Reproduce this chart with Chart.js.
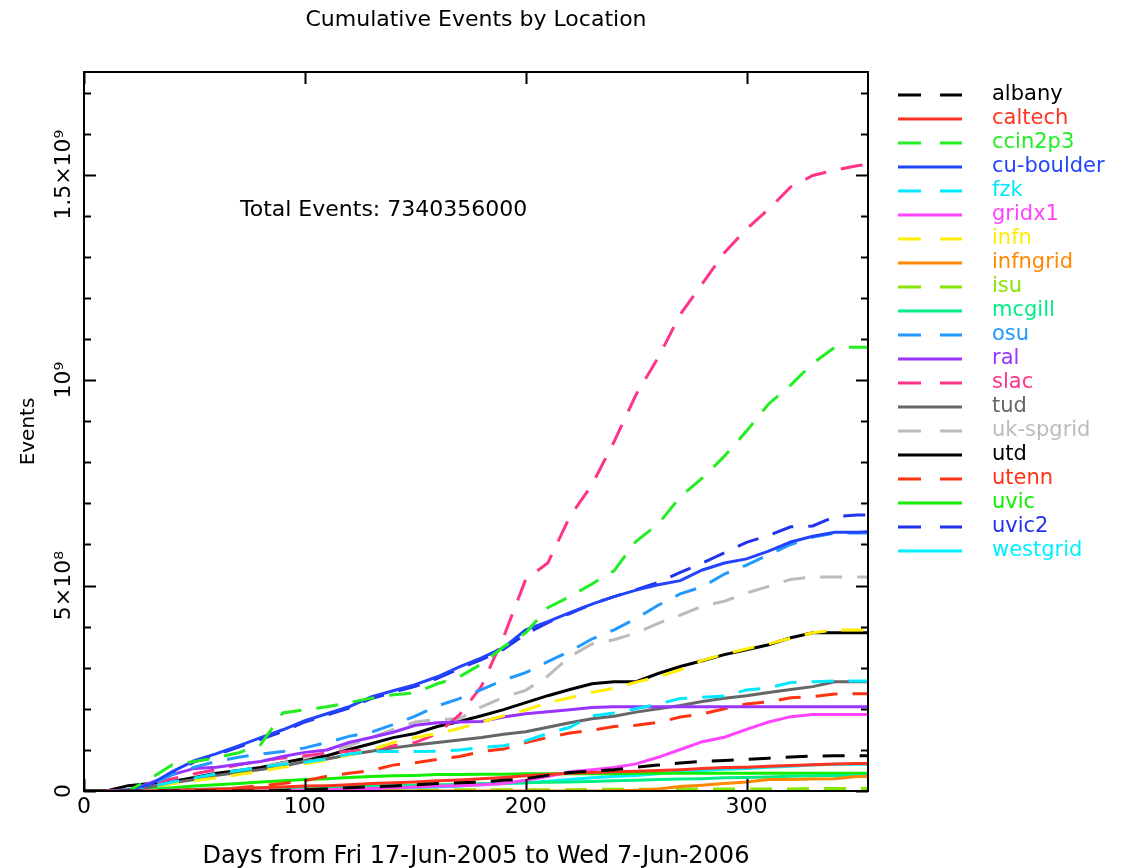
<!DOCTYPE html>
<html>
<head>
<meta charset="utf-8">
<title>Cumulative Events by Location</title>
<script src="https://cdn.jsdelivr.net/npm/chart.js@4.4.1/dist/chart.umd.min.js"></script>
<style>
  html, body { margin: 0; padding: 0; background: #fff; }
  #wrap { width: 1131px; height: 868px; }
</style>
</head>
<body>
<div id="wrap"><canvas id="eventsChart" width="1131" height="868"></canvas></div>
<script>
// days since Fri 17-Jun-2005
const days = [0, 10, 20, 30, 40, 50, 60, 70, 80, 90, 100, 110, 120, 130, 140, 150, 160, 170, 180,
  190, 200, 210, 220, 230, 240, 250, 260, 270, 280, 290, 300, 310, 320, 330, 340, 350, 355];

// cumulative events per site, millions
const albany = [0,0,0,0,0,0,0,0,0,1,3,5,8,10,12,15,18,20,22,26,30,38,45,48,52,58,63,68,72,74,77,80,83,85,86,86,86];
const caltech = [0,0,0,0,2,3,5,6,8,10,12,13,15,18,20,22,25,27,30,33,37,40,43,45,47,48,50,52,55,57,58,60,62,64,66,67,67];
const ccin2p3 = [0,0,0,30,64,72,81,93,113,190,198,205,215,226,234,239,261,278,309,351,385,446,473,504,536,608,650,716,762,815,876,942,988,1041,1080,1080,1080];
const cuBoulder = [0,0,3,16,47,74,91,110,130,149,171,188,205,229,244,259,278,302,324,349,392,412,434,455,473,489,502,512,538,555,565,584,606,620,630,630,631];
const fzk = [0,0,0,10,22,32,42,50,58,65,70,78,90,96,96,96,97,100,106,110,122,140,155,183,190,200,212,225,228,231,246,251,264,266,268,268,268];
const gridx1 = [0,0,0,0,0,0,0,0,0,1,2,3,5,6,8,10,12,13,15,18,26,35,47,52,57,66,82,101,120,131,150,168,181,186,186,186,186];
const infn = [0,0,0,10,18,25,32,40,48,58,66,75,88,100,118,130,140,152,168,183,197,215,227,240,250,265,278,295,318,333,346,358,372,385,392,392,392];
const infngrid = [0,0,0,0,0,0,0,0,0,0,0,0,0,0,0,0,0,0,0,0,0,0,0,0,0,2,5,11,14,18,22,28,28,29,30,35,35];
const isu = [0,0,0,0,0,0,1,1,1,1,1,1,2,2,2,2,2,3,3,3,3,3,3,4,4,4,4,5,5,5,5,5,5,6,6,6,6];
const mcgill = [0,0,1,1,3,4,5,6,7,8,9,10,11,12,13,14,15,16,18,19,20,21,22,23,25,26,28,29,30,32,33,34,36,37,38,38,38];
const osu = [0,0,2,15,40,58,72,82,90,96,105,118,133,143,162,182,207,225,247,270,288,315,340,370,392,420,452,480,497,528,550,575,600,618,628,628,628];
const ral = [0,0,0,20,40,55,58,65,72,84,94,100,118,130,143,160,166,168,169,180,188,193,198,203,205,205,205,205,205,205,205,205,205,205,205,205,205];
const slac = [0,0,0,15,30,42,52,64,73,80,86,92,97,101,110,118,140,185,255,375,515,555,668,745,850,965,1055,1160,1235,1310,1368,1416,1470,1498,1511,1522,1525];
const tud = [0,0,0,10,20,28,38,45,52,60,72,78,88,97,105,112,118,124,130,138,144,155,166,176,182,192,200,208,218,226,232,240,247,254,266,266,266];
const ukSpgrid = [0,0,0,8,18,28,38,48,58,68,80,95,110,130,150,168,174,176,205,228,245,280,327,358,368,385,408,428,450,462,482,498,515,521,521,521,521];
const utd = [0,0,13,18,23,33,43,50,57,69,79,86,101,115,130,140,157,169,183,198,215,232,247,261,266,266,286,303,317,332,344,356,373,385,385,385,385];
const utenn = [0,0,0,0,0,0,3,8,13,18,25,36,43,50,63,69,77,84,96,102,118,130,141,148,157,160,167,180,188,200,212,217,227,230,236,237,237];
const uvic = [0,0,2,5,8,12,15,18,22,25,28,30,33,35,37,38,40,40,41,41,42,42,42,42,42,43,43,43,43,43,43,43,43,43,43,43,43];
const uvic2 = [0,0,2,14,44,71,88,107,126,145,168,185,202,225,240,255,274,298,320,345,382,410,432,455,473,490,508,532,555,580,605,622,643,645,668,672,672];
const westgrid = [0,0,0,0,0,0,0,0,0,0,0,1,3,4,6,8,10,12,15,18,20,24,28,32,35,38,42,46,50,53,55,58,60,63,65,65,65];

const sites = ['albany', 'caltech', 'ccin2p3', 'cu-boulder', 'fzk', 'gridx1', 'infn', 'infngrid', 'isu', 'mcgill',
  'osu', 'ral', 'slac', 'tud', 'uk-spgrid', 'utd', 'utenn', 'uvic', 'uvic2', 'westgrid'];
const siteValues = [albany, caltech, ccin2p3, cuBoulder, fzk, gridx1, infn, infngrid, isu, mcgill,
  osu, ral, slac, tud, ukSpgrid, utd, utenn, uvic, uvic2, westgrid];
const siteColors = ['#000000', '#ff3322', '#22ee22', '#2244ff', '#00e8ff', '#ff44ff', '#ffee00', '#ff8800', '#88e600', '#00ee88',
  '#2299ff', '#9933ff', '#ff3388', '#666666', '#bbbbbb', '#000000', '#ff3311', '#11ee00', '#2233ee', '#00f0ff'];

const xTicks = [0, 100, 200, 300];
const yTicks = [0, 500, 1000, 1500];
const yTickLabels = ['0', '5×10⁸', '10⁹', '1.5×10⁹'];
const totalEvents = '7340356000';

const FONT = '"DejaVu Sans", sans-serif';

// frame, inward ticks, rotated y labels, total text and the legend
const decorations = {
    id: 'decorations',
    afterDraw(chart) {
        const { ctx, chartArea: a, scales: { x, y } } = chart;
        ctx.save();
        ctx.strokeStyle = '#000';
        ctx.lineWidth = 2;
        ctx.strokeRect(a.left, a.top, a.right - a.left, a.bottom - a.top);

        ctx.beginPath();
        for (let v = 0; v <= y.max; v += 100) {
            const py = Math.round(y.getPixelForValue(v)) + 0.5;
            const len = v % 500 === 0 ? 12 : 7;
            ctx.moveTo(a.left, py); ctx.lineTo(a.left + len, py);
            ctx.moveTo(a.right, py); ctx.lineTo(a.right - len, py);
        }
        xTicks.forEach(v => {
            const px = Math.round(x.getPixelForValue(v)) + 0.5;
            ctx.moveTo(px, a.bottom); ctx.lineTo(px, a.bottom - 12);
            ctx.moveTo(px, a.top); ctx.lineTo(px, a.top + 12);
        });
        ctx.stroke();

        ctx.fillStyle = '#000';
        ctx.font = '22px ' + FONT;
        ctx.textAlign = 'center';
        ctx.textBaseline = 'alphabetic';
        yTicks.forEach((v, i) => {
            ctx.save();
            ctx.translate(70, y.getPixelForValue(v));
            ctx.rotate(-Math.PI / 2);
            ctx.fillText(yTickLabels[i], 0, 0);
            ctx.restore();
        });

        ctx.font = '22px ' + FONT;
        ctx.textAlign = 'left';
        ctx.textBaseline = 'middle';
        ctx.fillText('Total Events: ' + totalEvents, 240, 210);

        ctx.font = '21px ' + FONT;
        ctx.textBaseline = 'alphabetic';
        chart.data.datasets.forEach((ds, i) => {
            const ly = 95 + i * 24;
            ctx.strokeStyle = ds.borderColor;
            ctx.lineWidth = 3;
            ctx.setLineDash(ds.borderDash.length ? [23, 19] : []);
            ctx.beginPath();
            ctx.moveTo(898, ly);
            ctx.lineTo(962, ly);
            ctx.stroke();
            ctx.setLineDash([]);
            ctx.fillStyle = ds.borderColor;
            ctx.fillText(ds.label, 992, ly + 5);
        });
        ctx.restore();
    }
};

const eventsChart = new Chart(document.getElementById('eventsChart'), {
    type: 'line',
    data: {
        datasets: sites.map((name, i) => ({
            label: name,
            data: days.map((d, j) => ({ x: d, y: siteValues[i][j] })),
            borderColor: siteColors[i],
            borderWidth: 3,
            borderDash: i % 2 === 0 ? [22, 15] : [],
            pointRadius: 0,
            fill: false,
            tension: 0
        }))
    },
    options: {
        responsive: false,
        animation: false,
        devicePixelRatio: 1,
        layout: { padding: { left: 0, right: 263, top: 0, bottom: 0 } },
        plugins: {
            legend: { display: false },
            tooltip: { enabled: false },
            title: {
                display: true,
                fullSize: false,
                text: 'Cumulative Events by Location',
                color: '#000',
                font: { family: FONT, size: 22, weight: 'normal' },
                padding: { top: 7, bottom: 38.6 }
            }
        },
        scales: {
            x: {
                type: 'linear',
                min: 0,
                max: 355,
                afterBuildTicks: s => { s.ticks = xTicks.map(v => ({ value: v })); },
                afterFit: s => { s.height = 77; },
                grid: { display: false, drawTicks: false },
                border: { display: false },
                ticks: { color: '#000', font: { family: FONT, size: 22 }, padding: 3 },
                title: {
                    display: true,
                    text: 'Days from Fri 17-Jun-2005 to Wed 7-Jun-2006',
                    color: '#000',
                    font: { family: FONT, size: 24 },
                    padding: { top: 0, bottom: -3 }
                }
            },
            y: {
                min: 0,
                max: 1750,
                afterBuildTicks: s => { s.ticks = yTicks.map(v => ({ value: v })); },
                afterFit: s => { s.width = 84; },
                grid: { display: false, drawTicks: false },
                border: { display: false },
                ticks: { display: false },
                title: {
                    display: true,
                    text: 'Events',
                    color: '#000',
                    font: { family: FONT, size: 20 },
                    padding: { top: 17, bottom: 0 }
                }
            }
        }
    },
    plugins: [decorations]
});
</script>
</body>
</html>
